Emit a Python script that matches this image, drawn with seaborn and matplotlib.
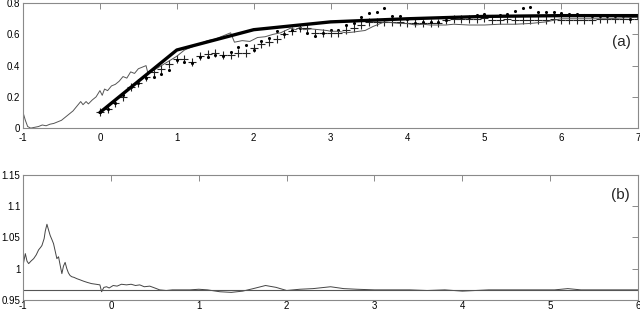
import matplotlib
matplotlib.use("Agg")
import matplotlib.pyplot as plt
import seaborn as sns
import pandas as pd

sns.set_style("white")
plt.rcParams['font.family'] = ['Liberation Sans', 'DejaVu Sans']

# ---------------- panel (a) data ----------------
thick_x = [0, 1, 2, 3, 4, 5, 6, 7]
thick_y = [0.10, 0.50, 0.63, 0.68, 0.70, 0.715, 0.72, 0.72]

thin_x = [-1.00, -0.97, -0.94, -0.90, -0.85, -0.80, -0.75, -0.70, -0.65, -0.60,
          -0.55, -0.50, -0.45, -0.40, -0.35, -0.30, -0.25, -0.22, -0.18, -0.15,
          -0.10, -0.05, 0.00, 0.03, 0.06, 0.10, 0.15, 0.20, 0.25, 0.30,
          0.35, 0.40, 0.45, 0.50, 0.55, 0.60, 0.62, 0.70, 0.80, 0.90,
          1.00, 1.10, 1.20, 1.30, 1.40, 1.50, 1.60, 1.70, 1.75, 1.85,
          1.95, 2.05, 2.15, 2.25, 2.35, 2.48, 2.55, 2.60, 2.65, 2.75,
          2.85, 2.95, 3.00, 3.10, 3.20, 3.30, 3.37, 3.45, 3.55, 3.70,
          3.80, 3.90, 4.00, 4.10, 4.20, 4.30, 4.40, 4.50, 4.60, 4.80,
          5.00, 5.20, 5.40, 5.60, 5.80, 5.90, 6.00, 6.20, 6.40, 6.60,
          6.80, 7.00]
thin_y = [0.10, 0.05, 0.01, 0.00, 0.005, 0.01, 0.02, 0.015, 0.025, 0.03,
          0.04, 0.05, 0.07, 0.09, 0.11, 0.14, 0.17, 0.15, 0.17, 0.155,
          0.18, 0.20, 0.24, 0.21, 0.25, 0.24, 0.27, 0.28, 0.30, 0.33,
          0.32, 0.36, 0.35, 0.38, 0.39, 0.40, 0.36, 0.37, 0.40, 0.43,
          0.46, 0.50, 0.52, 0.54, 0.56, 0.57, 0.59, 0.61, 0.55, 0.56,
          0.555, 0.58, 0.585, 0.60, 0.61, 0.64, 0.63, 0.645, 0.63, 0.635,
          0.63, 0.625, 0.62, 0.62, 0.61, 0.615, 0.62, 0.625, 0.65, 0.68,
          0.675, 0.67, 0.67, 0.66, 0.665, 0.66, 0.66, 0.66, 0.665, 0.66,
          0.66, 0.665, 0.665, 0.67, 0.68, 0.69, 0.70, 0.70, 0.70, 0.70,
          0.705, 0.71]

mark_x = [round(0.1 * i, 1) for i in range(71)]
plus_y = [0.10, 0.12, 0.16, 0.20, 0.26, 0.29, 0.33, 0.36, 0.38, 0.41,
          0.44, 0.445, 0.425, 0.46, 0.475, 0.478, 0.467, 0.467, 0.478, 0.478,
          0.51, 0.54, 0.55, 0.57, 0.605, 0.62, 0.64, 0.64, 0.61, 0.61,
          0.61, 0.61, 0.627, 0.64, 0.66, 0.68, 0.68, 0.68, 0.68, 0.68,
          0.675, 0.67, 0.67, 0.67, 0.675, 0.69, 0.70, 0.70, 0.70, 0.70,
          0.705, 0.695, 0.695, 0.70, 0.695, 0.695, 0.695, 0.695, 0.695, 0.70,
          0.69, 0.695, 0.695, 0.695, 0.695, 0.70, 0.70, 0.70, 0.70, 0.70,
          0.70]
dot_y = [0.10, 0.12, 0.16, 0.21, 0.26, 0.29, 0.32, 0.33, 0.345, 0.37,
         0.435, 0.425, 0.42, 0.456, 0.456, 0.47, 0.46, 0.49, 0.52, 0.53,
         0.50, 0.555, 0.58, 0.62, 0.60, 0.63, 0.64, 0.61, 0.59, 0.61,
         0.63, 0.63, 0.66, 0.67, 0.71, 0.735, 0.745, 0.767, 0.72, 0.72,
         0.70, 0.67, 0.68, 0.68, 0.68, 0.69, 0.71, 0.71, 0.71, 0.725,
         0.73, 0.72, 0.725, 0.73, 0.75, 0.77, 0.775, 0.745, 0.745, 0.745,
         0.74, 0.73, 0.73, 0.725, 0.72, 0.72, 0.72, 0.72, 0.72, 0.70,
         0.71]

# ---------------- panel (b) data ----------------
b_x = [-1.000, -0.974, -0.955, -0.936, -0.910, -0.879, -0.850, -0.823, -0.800, -0.785,
       -0.760, -0.747, -0.728, -0.710, -0.691, -0.670, -0.653, -0.634, -0.615, -0.596,
       -0.577, -0.558, -0.540, -0.521, -0.502, -0.483, -0.465, -0.445, -0.420, -0.389,
       -0.350, -0.313, -0.270, -0.220, -0.170, -0.125, -0.106, -0.080, -0.049, -0.020,
       0.026, 0.070, 0.120, 0.177, 0.230, 0.280, 0.328, 0.380, 0.442, 0.500,
       0.555, 0.630, 0.700, 0.800, 0.900, 1.000, 1.100, 1.240, 1.370, 1.500,
       1.620, 1.760, 1.880, 2.000, 2.150, 2.300, 2.500, 2.650, 2.800, 3.000,
       3.200, 3.400, 3.600, 3.800, 4.000, 4.150, 4.300, 4.500, 4.700, 4.900,
       5.050, 5.200, 5.350, 5.500, 5.700, 5.850, 6.000]
b_y = [1.005, 1.024, 1.012, 1.008, 1.012, 1.016, 1.022, 1.030, 1.034, 1.037,
       1.048, 1.060, 1.071, 1.062, 1.053, 1.046, 1.040, 1.028, 1.016, 1.019,
       1.005, 0.992, 1.004, 1.010, 1.000, 0.993, 0.989, 0.987, 0.986, 0.984,
       0.982, 0.980, 0.978, 0.976, 0.975, 0.974, 0.963, 0.970, 0.971, 0.969,
       0.973, 0.972, 0.975, 0.974, 0.975, 0.973, 0.974, 0.971, 0.972, 0.969,
       0.966, 0.965, 0.966, 0.966, 0.966, 0.967, 0.966, 0.963, 0.962, 0.964,
       0.968, 0.973, 0.970, 0.965, 0.967, 0.968, 0.971, 0.968, 0.967, 0.966,
       0.966, 0.966, 0.965, 0.966, 0.964, 0.965, 0.966, 0.966, 0.966, 0.966,
       0.966, 0.968, 0.966, 0.966, 0.966, 0.966, 0.966]
b_ref = 0.966
b_ref_x = [-1, 6]

a_xticks = [-1, 0, 1, 2, 3, 4, 5, 6, 7]
a_yticks = [0, 0.2, 0.4, 0.6, 0.8]
a_ylabels = ["0", "0.2", "0.4", "0.6", "0.8"]
b_xticks = [-1, 0, 1, 2, 3, 4, 5, 6]
b_yticks = [0.95, 1.0, 1.05, 1.1, 1.15]
b_ylabels = ["0.95", "1", "1.05", "1.1", "1.15"]

fig = plt.figure(figsize=(6.4, 3.14), dpi=100)
ax1 = fig.add_axes([0.036, 0.592, 0.961, 0.398])
ax2 = fig.add_axes([0.036, 0.045, 0.961, 0.398])

frame = "#8a8a8a"

# panel (a)
sns.lineplot(x=thin_x, y=thin_y, ax=ax1, color="#555555", lw=0.7,
             sort=False, estimator=None)
sns.lineplot(x=thick_x, y=thick_y, ax=ax1, color="black", lw=2.4,
             sort=False, estimator=None)
sns.scatterplot(x=mark_x, y=plus_y, ax=ax1, marker="+", s=36, color="#222222",
                linewidth=0.8)
sns.scatterplot(x=mark_x, y=dot_y, ax=ax1, marker="o", s=5, color="black",
                linewidth=0)
ax1.set_xlim(-1, 7)
ax1.set_ylim(0, 0.8)
ax1.set_xticks(a_xticks)
ax1.set_xticklabels([str(t) for t in a_xticks])
ax1.set_yticks(a_yticks)
ax1.set_yticklabels(a_ylabels)
ax1.text(6.9, 0.55, "(a)", fontsize=11, ha="right", va="center")

# panel (b)
sns.lineplot(x=b_x, y=b_y, ax=ax2, color="#444444", lw=0.7,
             sort=False, estimator=None)
sns.lineplot(x=b_ref_x, y=[b_ref, b_ref], ax=ax2, color="#555555", lw=0.8,
             sort=False, estimator=None)
ax2.set_xlim(-1, 6)
ax2.set_ylim(0.95, 1.15)
ax2.set_xticks(b_xticks)
ax2.set_xticklabels([str(t) for t in b_xticks])
ax2.set_yticks(b_yticks)
ax2.set_yticklabels(b_ylabels)
ax2.text(5.9, 1.118, "(b)", fontsize=11, ha="right", va="center")

for ax in (ax1, ax2):
    ax.set_xlabel("")
    ax.set_ylabel("")
    for sp in ax.spines.values():
        sp.set_visible(True)
        sp.set_color(frame)
        sp.set_linewidth(0.8)
    ax.tick_params(direction="in", length=4, width=0.7, color=frame,
                   top=True, right=True, labelsize=7, labelcolor="black")
    ax.tick_params(axis="y", pad=2)
    leg = ax.get_legend()
    if leg:
        leg.remove()
ax1.tick_params(axis="x", pad=3.5)
ax2.tick_params(axis="x", pad=1.0)

fig.savefig("out.png", dpi=100)
